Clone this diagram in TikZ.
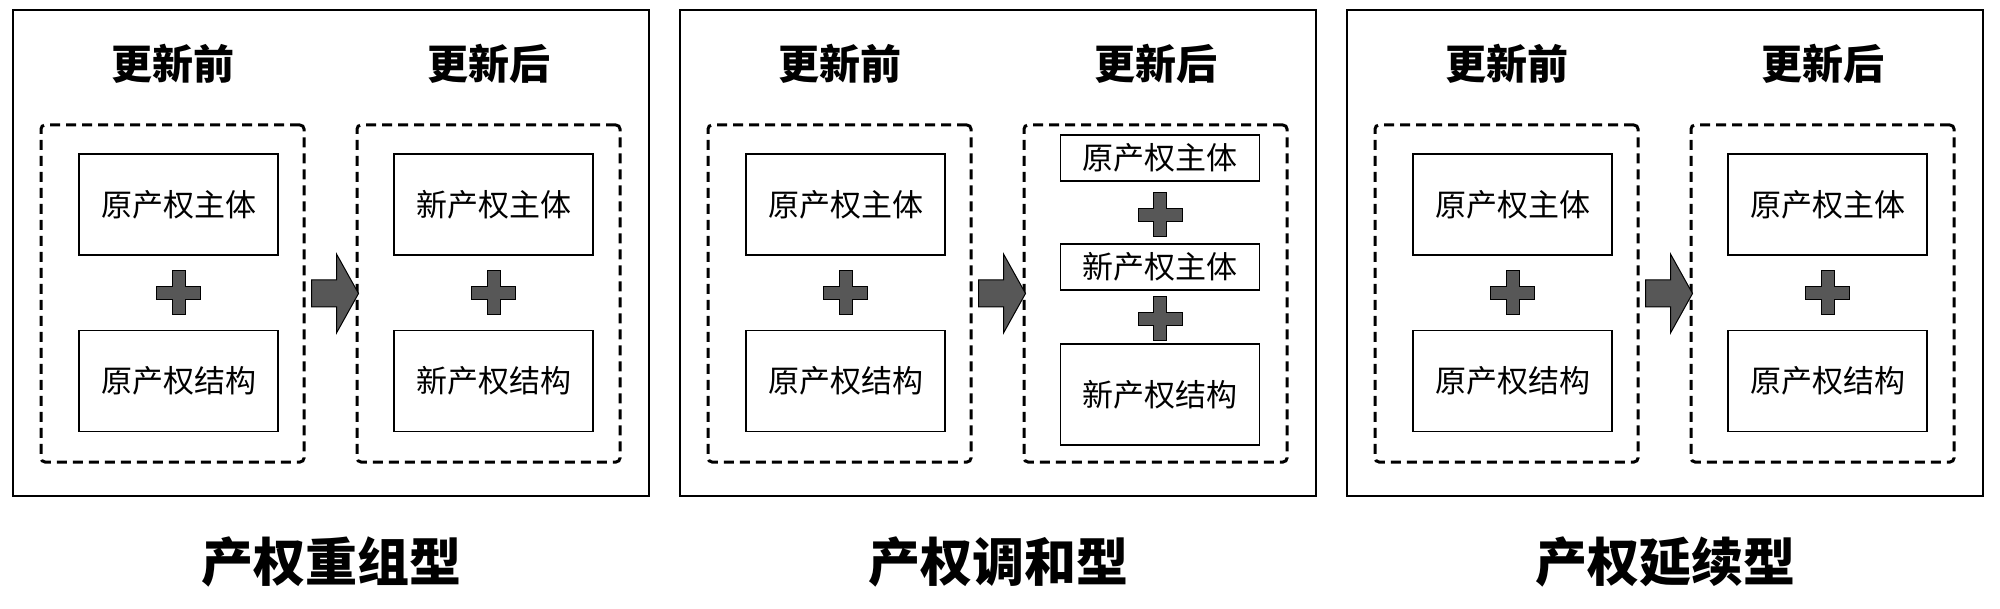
\documentclass[tikz,border=0pt]{standalone}
\usepackage{fontspec}
\setmainfont{Noto Sans CJK SC}
\usepackage{tikz}
\usetikzlibrary{positioning}

\begin{document}
\begin{tikzpicture}[x=1pt, y=-1pt,
		rahmen/.style={draw, line width=1.6pt, minimum width=636pt, minimum height=486pt, inner sep=0pt},
		gruppe/.style={draw, line width=3pt, dash pattern=on 10pt off 6pt, rounded corners=4pt, minimum width=263pt, minimum height=337pt, inner sep=0pt},
		kasten/.style={draw, line width=1.6pt, minimum width=199pt, minimum height=101pt, inner sep=0pt, font=\fontsize{31}{31}\selectfont},
		kleinkasten/.style={kasten, minimum height=46pt},
		kopf/.style={font=\bfseries\fontsize{41}{41}\selectfont},
		titel/.style={font=\bfseries\fontsize{52}{52}\selectfont},
		plussign/.pic={\filldraw[fill=black!66, line width=1pt] (-6.5,-22) -- (6.5,-22) -- (6.5,-6.5) -- (22,-6.5) -- (22,6.5) -- (6.5,6.5) -- (6.5,22) -- (-6.5,22) -- (-6.5,6.5) -- (-22,6.5) -- (-22,-6.5) -- (-6.5,-6.5) -- cycle;},
		pfeil/.pic={\filldraw[fill=black!66, line width=1pt] (0,-13.5) -- (25,-13.5) -- (25,-39.5) -- (47,0) -- (25,39.5) -- (25,13.5) -- (0,13.5) -- cycle;}]
		\useasboundingbox (0,0) rectangle (2000,609);
		% Rahmen, Gruppen und Titel
		\foreach \i/\x/\name in {1/13/产权重组型, 2/680/产权调和型, 3/1347/产权延续型} {
			\node[rahmen] (rahmen\i) at (\x+318, 253) {};
			\node[gruppe] (vor\i) at (\x+159.5, 293.5) {};
			\node[gruppe] (nach\i) at (\x+475.5, 293.5) {};
			\node[kopf] (kv\i) at (\x+159.5, 64) {更新前};
			\node[kopf] (kn\i) at (\x+475.5, 64) {更新后};
			\node[titel] (titel\i) at (\x+318, 562) {\name};
			% vor der Erneuerung
			\node[kasten] (va\i) at (\x+165.5, 204.5) {原产权主体};
			\node[kasten] (vb\i) at (\x+165.5, 381) {原产权结构};
			\pic at (\x+165.5, 293) {plussign};
			% Pfeil
			\pic at ([xshift=6pt]vor\i.east) {pfeil};
		}
		% nach der Erneuerung (Typ 1 und 3)
		\foreach \i/\x/\p in {1/13/新, 3/1347/原} {
			\node[kasten] (na\i) at (\x+480.5, 204.5) {\p 产权主体};
			\node[kasten] (nb\i) at (\x+480.5, 381) {\p 产权结构};
			\pic at (\x+480.5, 293) {plussign};
		}
		% nach der Erneuerung (Typ 2)
		\node[kleinkasten] (na2) at (1160, 158) {原产权主体};
		\node[kleinkasten] (nb2) at (1160, 267) {新产权主体};
		\node[kasten] (nc2) at (1160, 394.5) {新产权结构};
		\pic at (1160, 215) {plussign};
		\pic at (1160, 319) {plussign};
	\end{tikzpicture}
\end{document}
